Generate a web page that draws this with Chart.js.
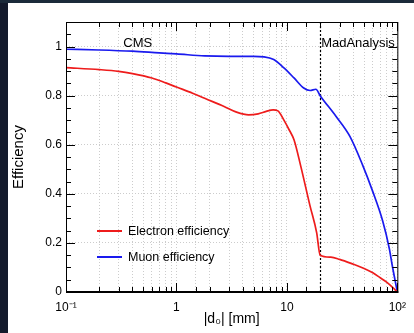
<!DOCTYPE html>
<html>
<head>
<meta charset="utf-8">
<script src="https://cdn.jsdelivr.net/npm/chart.js@4.4.1/dist/chart.umd.min.js"></script>
<style>
  html, body { margin: 0; padding: 0; background: #131a2c; }
  #topband { position: absolute; left: 0; top: 0; width: 414px; height: 3px; background: #1b2a3a; }
  #box { position: absolute; left: 8px; top: 3px; width: 406px; height: 330px; background: #fff; }
  canvas { display: block; }
</style>
</head>
<body>
<div id="topband"></div>
<div id="box"><canvas id="effCanvas" width="406" height="330"></canvas></div>
<script>
// |d0| in mm, efficiencies
var electronD0  = [0.1, 0.2, 0.3, 0.4, 0.6, 0.8, 1, 1.4, 1.8, 2.7, 3.5, 4.5, 5.5, 6.5, 7.5, 8.3, 9.4, 10.5, 11.6, 13.3, 16.2, 18.6, 20, 25, 30, 40, 50, 60, 70, 80, 90, 100];
var electronEff = [0.914, 0.906, 0.899, 0.890, 0.872, 0.852, 0.835, 0.810, 0.789, 0.756, 0.733, 0.722, 0.726, 0.736, 0.742, 0.738, 0.700, 0.660, 0.620, 0.516, 0.351, 0.242, 0.150, 0.142, 0.133, 0.113, 0.096, 0.078, 0.058, 0.040, 0.020, 0.0];
var muonD0  = [0.1, 0.2, 0.4, 0.7, 1, 1.8, 3, 5, 6.2, 7.6, 9.4, 11.6, 14.2, 16.2, 18.3, 20, 27.8, 37.2, 48.5, 59.6, 73.6, 84.7, 89.8, 100];
var muonEff = [0.989, 0.986, 0.981, 0.974, 0.970, 0.962, 0.960, 0.960, 0.958, 0.947, 0.913, 0.872, 0.831, 0.821, 0.826, 0.800, 0.716, 0.634, 0.517, 0.412, 0.290, 0.176, 0.110, 0.0];

var xTickValues = [0.1, 1, 10, 100];
var xTickLabels = ['10⁻¹', '1', '10', '10²'];
var regionSplit = 20;   // CMS | MadAnalysis boundary
var cmsLabelX = 0.33;

var fontFam = "'Liberation Sans', Arial, Helvetica, sans-serif";

function toPoints(xs, ys) {
  return xs.map(function (x, i) { return { x: x, y: ys[i] }; });
}

var rootStyle = {
  id: 'rootStyle',
  beforeDatasetsDraw: function (chart) {
    var ctx = chart.ctx, a = chart.chartArea, xs = chart.scales.x;
    var px = Math.round(xs.getPixelForValue(regionSplit)) + 0.5;
    ctx.save();
    ctx.strokeStyle = '#000';
    ctx.lineWidth = 1.2;
    ctx.setLineDash([2, 2]);
    ctx.beginPath();
    ctx.moveTo(px, a.top);
    ctx.lineTo(px, a.bottom);
    ctx.stroke();
    ctx.restore();
  },
  afterDraw: function (chart) {
    var ctx = chart.ctx, a = chart.chartArea;
    var xs = chart.scales.x, ys = chart.scales.y;
    ctx.save();
    ctx.strokeStyle = '#000';
    ctx.lineWidth = 1;

    // inward ticks on x (bottom and top)
    xs.ticks.forEach(function (t) {
      var lg = Math.log10(t.value);
      var major = Math.abs(lg - Math.round(lg)) < 1e-6;
      var len = major ? 9 : 5;
      var p = Math.round(xs.getPixelForValue(t.value)) + 0.5;
      ctx.beginPath();
      ctx.moveTo(p, a.bottom); ctx.lineTo(p, a.bottom - len);
      ctx.moveTo(p, a.top); ctx.lineTo(p, a.top + len);
      ctx.stroke();
    });
    // inward ticks on y (left and right)
    for (var k = 0; k * 0.05 <= ys.max + 1e-9; k++) {
      var len = (k % 4 === 0) ? 9 : 5;
      var p = Math.round(ys.getPixelForValue(k * 0.05)) + 0.5;
      ctx.beginPath();
      ctx.moveTo(a.left, p); ctx.lineTo(a.left + len, p);
      ctx.moveTo(a.right, p); ctx.lineTo(a.right - len, p);
      ctx.stroke();
    }

    // frame
    ctx.strokeRect(a.left + 0.5, a.top + 0.5, a.right - a.left, a.bottom - a.top);
    ctx.lineWidth = 2;
    ctx.beginPath();
    ctx.moveTo(a.left, a.bottom); ctx.lineTo(a.right + 1, a.bottom);
    ctx.stroke();

    // region labels
    ctx.fillStyle = '#000';
    ctx.font = '13px ' + fontFam;
    ctx.textBaseline = 'middle';
    ctx.textAlign = 'left';
    ctx.fillText('CMS', xs.getPixelForValue(cmsLabelX), a.top + 21);
    ctx.fillText('MadAnalysis', xs.getPixelForValue(regionSplit) + 1, a.top + 21);

    // legend
    ctx.font = '12.5px ' + fontFam;
    chart.data.datasets.forEach(function (ds, i) {
      var y = a.top + 209 + i * 26;
      ctx.strokeStyle = ds.borderColor;
      ctx.lineWidth = 2;
      ctx.beginPath();
      ctx.moveTo(a.left + 31, y); ctx.lineTo(a.left + 56, y);
      ctx.stroke();
      ctx.fillText(ds.label, a.left + 62, y + 1);
    });
    ctx.restore();
  }
};

var effChart = new Chart(document.getElementById('effCanvas'), {
  type: 'line',
  data: {
    datasets: [
      {
        label: 'Electron efficiency',
        data: toPoints(electronD0, electronEff),
        borderColor: '#ee1c1c',
        borderWidth: 1.7,
        pointRadius: 0,
        cubicInterpolationMode: 'monotone'
      },
      {
        label: 'Muon efficiency',
        data: toPoints(muonD0, muonEff),
        borderColor: '#1a1aee',
        borderWidth: 1.7,
        pointRadius: 0,
        cubicInterpolationMode: 'monotone'
      }
    ]
  },
  options: {
    responsive: false,
    animation: false,
    devicePixelRatio: 1,
    layout: { padding: { left: 0, top: 19, right: 12, bottom: 0 } },
    plugins: { legend: { display: false }, tooltip: { enabled: false } },
    scales: {
      x: {
        type: 'logarithmic',
        min: 0.1,
        max: 100,
        afterFit: function (s) { s.height = 41; },
        grid: { color: '#cccccc', drawTicks: false },
        border: { display: false, dash: [1, 2] },
        ticks: {
          autoSkip: false,
          maxRotation: 0,
          padding: 8,
          color: '#000',
          font: { family: fontFam, size: 12 },
          callback: function (v) {
            for (var i = 0; i < xTickValues.length; i++) {
              if (Math.abs(v - xTickValues[i]) < 1e-9 * xTickValues[i] + 1e-12) return xTickLabels[i];
            }
            return '';
          }
        },
        title: {
          display: true,
          text: '|d₀| [mm]',
          color: '#000',
          font: { family: fontFam, size: 14 },
          padding: { top: 0, bottom: 5 }
        }
      },
      y: {
        min: 0,
        max: 1.1,
        afterFit: function (s) { s.width = 58; },
        grid: { color: '#cccccc', drawTicks: false },
        border: { display: false, dash: [1, 2] },
        ticks: {
          stepSize: 0.2,
          includeBounds: false,
          padding: 4,
          color: '#000',
          font: { family: fontFam, size: 12 },
          callback: function (v) { return String(+v.toFixed(1)); }
        },
        title: {
          display: true,
          text: 'Efficiency',
          color: '#000',
          font: { family: fontFam, size: 15 },
          padding: { top: 2, bottom: 0 }
        }
      }
    }
  },
  plugins: [rootStyle]
});
</script>
</body>
</html>
